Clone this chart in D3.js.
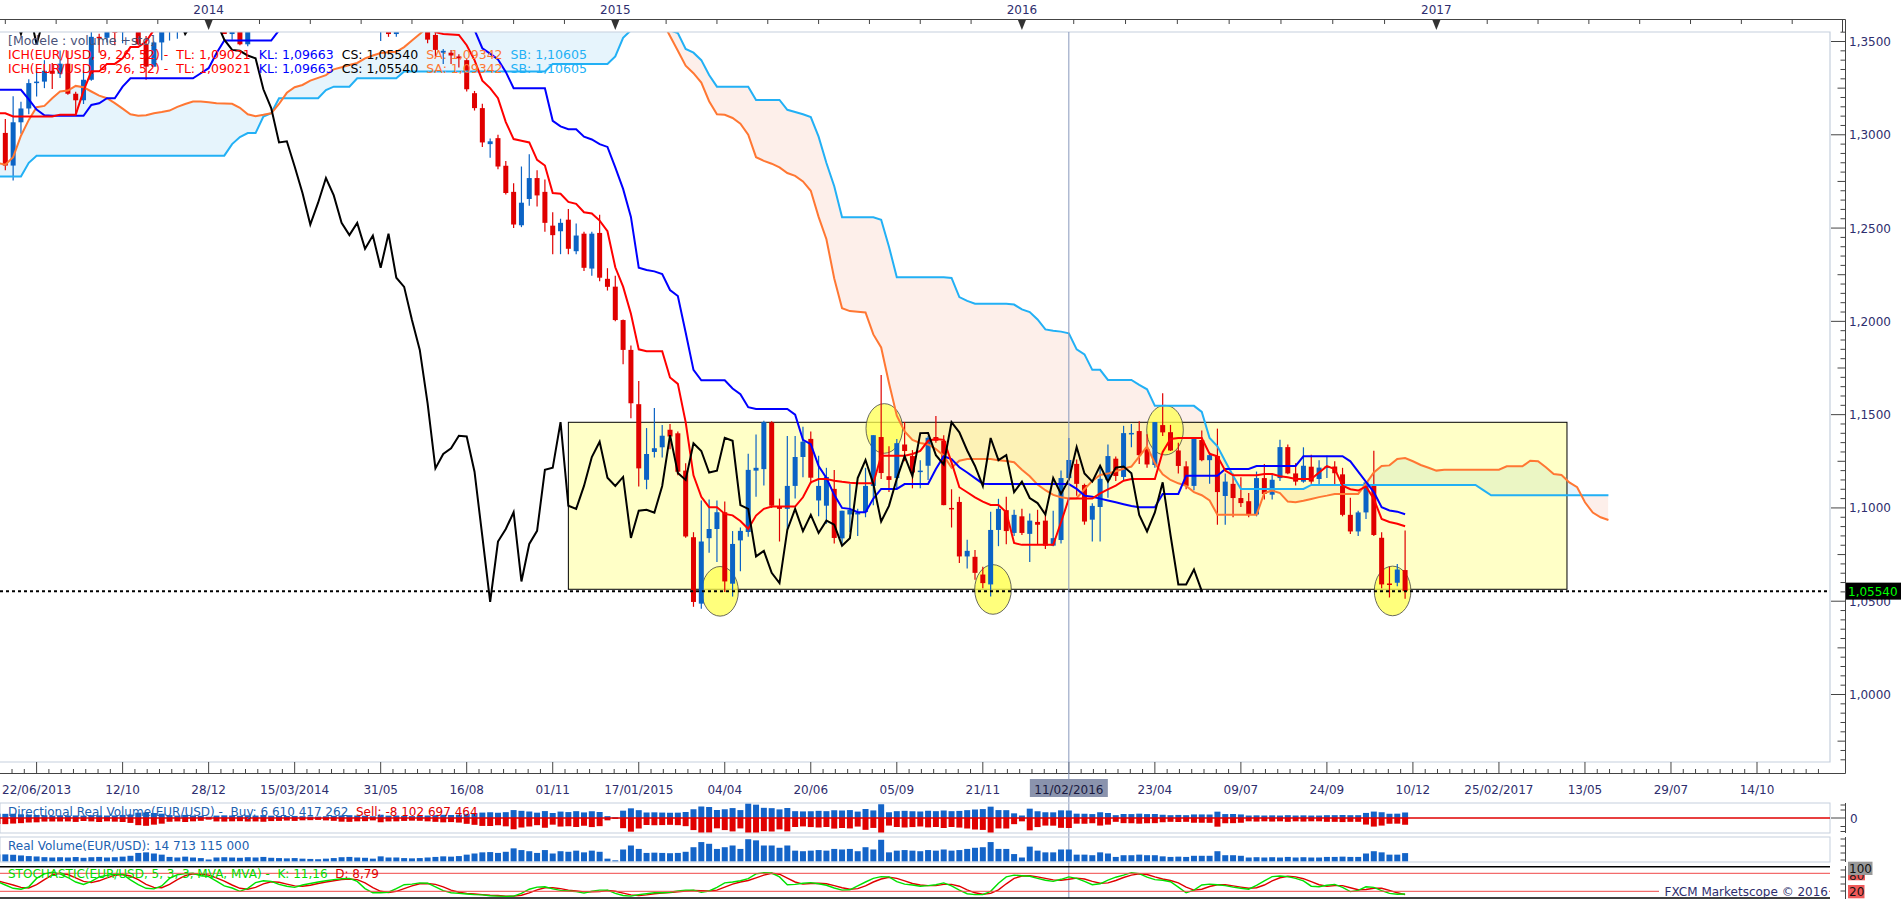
<!DOCTYPE html>
<html>
<head>
<meta charset="utf-8">
<script src="https://d3js.org/d3.v7.min.js"></script>
<style>
body { margin: 0; background: #fff; }
svg { display: block; font-family: "DejaVu Sans", Verdana, sans-serif; }
</style>
</head>
<body>
<div id="chart"></div>
<script>
// weekly EUR/USD candles, week 0 = 22/06/2013, one row per week: open, high, low, close
const ohlc = [
// w0-9
[1.3120,1.3195,1.2980,1.3010],[1.3010,1.3085,1.2810,1.2835],[1.2835,1.3206,1.2755,1.3067],[1.3067,1.3177,1.3005,1.3141],[1.3141,1.3298,1.3110,1.3277],
[1.3277,1.3345,1.3205,1.3285],[1.3285,1.3400,1.3250,1.3343],[1.3343,1.3385,1.3245,1.3327],[1.3327,1.3452,1.3305,1.3381],[1.3381,1.3450,1.3215,1.3220],
// w10-19
[1.3220,1.3230,1.3105,1.3185],[1.3185,1.3345,1.3165,1.3295],[1.3295,1.3569,1.3290,1.3525],[1.3525,1.3542,1.3440,1.3520],[1.3520,1.3646,1.3495,1.3555],
[1.3555,1.3610,1.3480,1.3550],[1.3550,1.3705,1.3490,1.3685],[1.3685,1.3832,1.3675,1.3805],[1.3805,1.3805,1.3480,1.3485],[1.3485,1.3530,1.3295,1.3365],
// w20-29
[1.3365,1.3500,1.3365,1.3495],[1.3495,1.3575,1.3400,1.3555],[1.3555,1.3620,1.3505,1.3590],[1.3590,1.3705,1.3515,1.3705],[1.3705,1.3810,1.3700,1.3740],
[1.3740,1.3810,1.3625,1.3670],[1.3670,1.3895,1.3655,1.3720],[1.3720,1.3820,1.3590,1.3590],[1.3590,1.3690,1.3575,1.3665],[1.3665,1.3700,1.3540,1.3540],
// w30-39
[1.3540,1.3740,1.3510,1.3675],[1.3675,1.3740,1.3480,1.3485],[1.3485,1.3640,1.3475,1.3635],[1.3635,1.3715,1.3580,1.3690],[1.3690,1.3775,1.3640,1.3740],
[1.3740,1.3825,1.3640,1.3800],[1.3800,1.3915,1.3725,1.3875],[1.3875,1.3967,1.3830,1.3910],[1.3910,1.3945,1.3750,1.3795],[1.3795,1.3875,1.3705,1.3750],
// w40-49
[1.3750,1.3810,1.3670,1.3705],[1.3705,1.3905,1.3700,1.3885],[1.3885,1.3905,1.3790,1.3815],[1.3815,1.3875,1.3785,1.3830],[1.3830,1.3905,1.3785,1.3870],
[1.3870,1.3993,1.3760,1.3760],[1.3760,1.3780,1.3650,1.3695],[1.3695,1.3735,1.3615,1.3630],[1.3630,1.3650,1.3585,1.3635],[1.3635,1.3670,1.3503,1.3645],
// w50-59
[1.3645,1.3675,1.3525,1.3540],[1.3540,1.3645,1.3525,1.3605],[1.3605,1.3680,1.3590,1.3645],[1.3645,1.3700,1.3590,1.3595],[1.3595,1.3650,1.3575,1.3605],
[1.3605,1.3645,1.3490,1.3510],[1.3535,1.3545,1.3420,1.3455],[1.3440,1.3460,1.3380,1.3450],[1.3440,1.3455,1.3380,1.3425],[1.3420,1.3432,1.3360,1.3410],
// w60-69
[1.3400,1.3405,1.3232,1.3244],[1.3223,1.3235,1.3130,1.3143],[1.3143,1.3167,1.2934,1.2959],[1.2950,1.2980,1.2877,1.2965],[1.2982,1.3000,1.2815,1.2830],
[1.2834,1.2860,1.2680,1.2688],[1.2694,1.2740,1.2500,1.2519],[1.2515,1.2830,1.2505,1.2636],[1.2656,1.2896,1.2620,1.2768],[1.2768,1.2810,1.2615,1.2675],
// w70-79
[1.2694,1.2760,1.2480,1.2528],[1.2513,1.2585,1.2360,1.2462],[1.2483,1.2550,1.2360,1.2528],[1.2545,1.2602,1.2360,1.2389],[1.2376,1.2525,1.2360,1.2460],
[1.2470,1.2480,1.2270,1.2287],[1.2283,1.2480,1.2245,1.2470],[1.2474,1.2572,1.2215,1.2234],[1.2228,1.2285,1.2165,1.2185],[1.2186,1.2245,1.2000,1.2007],
// w80-89
[1.2007,1.2010,1.1770,1.1847],[1.1847,1.1870,1.1480,1.1561],[1.1556,1.1680,1.1115,1.1212],[1.1151,1.1428,1.1100,1.1289],[1.1300,1.1535,1.1270,1.1320],
[1.1325,1.1445,1.1270,1.1387],[1.1419,1.1450,1.1315,1.1383],[1.1400,1.1410,1.1175,1.1194],[1.1200,1.1240,1.0840,1.0847],[1.0843,1.0870,1.0470,1.0496],
// w90-99
[1.0487,1.1040,1.0460,1.0820],[1.0838,1.1045,1.0760,1.0887],[1.0887,1.1040,1.0710,1.0977],[1.0977,1.1035,1.0550,1.0606],[1.0594,1.0876,1.0525,1.0807],
[1.0826,1.0895,1.0660,1.0877],[1.0871,1.1290,1.0845,1.1204],[1.1200,1.1393,1.1060,1.1215],[1.1208,1.1467,1.1120,1.1460],[1.1458,1.1465,1.1000,1.1012],
// w100-109
[1.1010,1.1050,1.0820,1.0995],[1.0995,1.1385,1.0885,1.1118],[1.1118,1.1385,1.1050,1.1273],[1.1273,1.1435,1.1165,1.1355],[1.1370,1.1410,1.1130,1.1162],
[1.1040,1.1280,1.0955,1.1118],[1.1012,1.1215,1.0915,1.1166],[1.1102,1.1203,1.0810,1.0839],[1.0837,1.0985,1.0810,1.0985],[1.0965,1.1128,1.0869,1.0990],
// w110-119
[1.0965,1.0995,1.0850,1.0975],[1.0978,1.1215,1.0950,1.1118],[1.1118,1.1390,1.1015,1.1390],[1.1380,1.1713,1.1155,1.1187],[1.1170,1.1330,1.1085,1.1150],
[1.1160,1.1370,1.1105,1.1347],[1.1340,1.1460,1.1250,1.1305],[1.1278,1.1310,1.1105,1.1190],[1.1194,1.1255,1.1105,1.1200],[1.1226,1.1385,1.1150,1.1376],
// w120-129
[1.1380,1.1493,1.1350,1.1360],[1.1360,1.1390,1.1015,1.1015],[1.1000,1.1100,1.0895,1.0995],[1.1032,1.1060,1.0705,1.0740],[1.0740,1.0830,1.0675,1.0770],
[1.0738,1.0775,1.0615,1.0652],[1.0643,1.0685,1.0570,1.0597],[1.0590,1.0980,1.0525,1.0882],[1.0882,1.1049,1.0795,1.0995],[1.0988,1.1060,1.0805,1.0876],
// w130-139
[1.0866,1.0990,1.0850,1.0963],[1.0955,1.0995,1.0855,1.0866],[1.0861,1.0970,1.0710,1.0932],[1.0925,1.0990,1.0805,1.0910],[1.0932,1.0990,1.0780,1.0798],
[1.0798,1.0985,1.0795,1.0838],[1.0828,1.1200,1.0810,1.1160],[1.1160,1.1375,1.1155,1.1257],[1.1236,1.1260,1.1065,1.1129],[1.1123,1.1130,1.0910,1.0927],
// w140-149
[1.0937,1.1025,1.0820,1.1011],[1.1005,1.1220,1.0820,1.1156],[1.1150,1.1340,1.1055,1.1278],[1.1264,1.1275,1.1145,1.1171],[1.1166,1.1440,1.1145,1.1401],
[1.1398,1.1450,1.1325,1.1402],[1.1412,1.1465,1.1235,1.1283],[1.1315,1.1395,1.1215,1.1233],[1.1230,1.1460,1.1215,1.1460],[1.1444,1.1614,1.1385,1.1405],
// w150-159
[1.1406,1.1445,1.1305,1.1308],[1.1308,1.1350,1.1185,1.1225],[1.1223,1.1250,1.1100,1.1118],[1.1118,1.1375,1.1095,1.1375],[1.1364,1.1415,1.1250,1.1256],
[1.1256,1.1300,1.1130,1.1283],[1.1278,1.1425,1.0910,1.1085],[1.1064,1.1185,1.0910,1.1141],[1.1129,1.1185,1.0950,1.1053],[1.1053,1.1165,1.1005,1.1026],
// w160-169
[1.1036,1.1080,1.0950,1.0965],[1.0965,1.1195,1.0955,1.1160],[1.1160,1.1235,1.1045,1.1075],[1.1071,1.1185,1.1045,1.1151],[1.1160,1.1365,1.1145,1.1326],
[1.1326,1.1340,1.1180,1.1185],[1.1185,1.1240,1.1120,1.1141],[1.1141,1.1325,1.1135,1.1226],[1.1221,1.1285,1.1130,1.1141],[1.1155,1.1255,1.1120,1.1216],
// w170-179
[1.1218,1.1280,1.1160,1.1222],[1.1222,1.1250,1.1120,1.1186],[1.1180,1.1215,1.0955,1.0963],[1.0963,1.1055,1.0860,1.0874],[1.0874,1.0985,1.0850,1.0976],
[1.0976,1.1145,1.0940,1.1137],[1.1122,1.1306,1.0850,1.0855],[1.0840,1.0870,1.0570,1.0590],[1.0595,1.0685,1.0520,1.0590],[1.0599,1.0700,1.0580,1.0670],
// w180
[1.0667,1.0879,1.0513,1.0554]
];

// Ichimoku lines (same week numbering)
const tenkan = [
1.3115,1.3115,1.3098,1.3098,1.3098,1.3098,1.3098,1.3098,1.3108,1.3108,
1.3108,1.3235,1.3340,1.3340,1.3380,1.3380,1.3410,1.3470,1.3470,1.3500,
1.3562,1.3565,1.3565,1.3563,1.3563,1.3563,1.3595,1.3595,1.3630,1.3648,
1.3685,1.3688,1.3685,1.3685,1.3685,1.3650,1.3695,1.3720,1.3720,1.3720,
1.3720,1.3790,1.3810,1.3818,1.3818,1.3830,1.3808,1.3800,1.3790,1.3748,
1.3748,1.3748,1.3748,1.3748,1.3640,1.3600,1.3550,1.3540,1.3538,1.3535,
1.3480,1.3400,1.3290,1.3250,1.3196,1.3068,1.2977,1.2968,1.2959,1.2866,
1.2835,1.2688,1.2684,1.2640,1.2630,1.2585,1.2578,1.2540,1.2483,1.2290,
1.2186,1.2041,1.1850,1.1840,1.1840,1.1840,1.1699,1.1665,1.1460,1.1175,
1.1060,1.1004,1.1004,1.0968,1.0960,1.0930,1.0888,1.0959,1.0995,1.1007,
1.1007,1.1007,1.1007,1.1057,1.1137,1.1155,1.1155,1.1146,1.1140,1.1135,
1.1132,1.1132,1.1132,1.1280,1.1280,1.1280,1.1280,1.1289,1.1306,1.1360,
1.1369,1.1365,1.1244,1.1111,1.1084,1.1057,1.1034,1.1016,1.1016,1.0977,
1.0812,1.0802,1.0802,1.0802,1.0802,1.0802,1.0923,1.1050,1.1050,1.1050,
1.1050,1.1078,1.1100,1.1120,1.1146,1.1155,1.1155,1.1155,1.1155,1.1300,
1.1370,1.1375,1.1375,1.1375,1.1375,1.1290,1.1277,1.1200,1.1175,1.1175,
1.1175,1.1175,1.1182,1.1182,1.1170,1.1164,1.1155,1.1155,1.1155,1.1190,
1.1224,1.1209,1.1120,1.1100,1.1093,1.1115,1.1048,1.0941,1.0925,1.0915,
1.0902
];
const kijun = [
1.3241,1.3241,1.3241,1.3241,1.3190,1.3135,1.3105,1.3102,1.3102,1.3102,
1.3102,1.3102,1.3160,1.3169,1.3196,1.3196,1.3258,1.3303,1.3303,1.3303,
1.3303,1.3303,1.3303,1.3303,1.3303,1.3303,1.3330,1.3357,1.3437,1.3505,
1.3505,1.3505,1.3505,1.3505,1.3505,1.3505,1.3560,1.3630,1.3630,1.3630,
1.3630,1.3630,1.3630,1.3630,1.3630,1.3680,1.3697,1.3734,1.3734,1.3734,
1.3734,1.3734,1.3734,1.3734,1.3734,1.3734,1.3707,1.3687,1.3687,1.3677,
1.3613,1.3562,1.3464,1.3435,1.3404,1.3337,1.3250,1.3250,1.3250,1.3250,
1.3250,1.3075,1.3045,1.3030,1.3030,1.2990,1.2975,1.2950,1.2935,1.2825,
1.2710,1.2560,1.2288,1.2275,1.2268,1.2253,1.2168,1.2136,1.1940,1.1740,
1.1684,1.1684,1.1684,1.1684,1.1640,1.1610,1.1540,1.1530,1.1530,1.1530,
1.1530,1.1530,1.1500,1.1365,1.1342,1.1225,1.1160,1.1070,1.1000,1.0995,
1.0977,1.0977,1.1050,1.1102,1.1102,1.1102,1.1128,1.1128,1.1128,1.1128,
1.1209,1.1277,1.1262,1.1218,1.1190,1.1160,1.1130,1.1128,1.1128,1.1128,
1.1128,1.1128,1.1128,1.1128,1.1128,1.1128,1.1128,1.1128,1.1102,1.1066,
1.1060,1.1050,1.1040,1.1030,1.1020,1.1010,1.1004,1.1004,1.1004,1.1075,
1.1075,1.1075,1.1173,1.1173,1.1173,1.1173,1.1173,1.1209,1.1209,1.1209,
1.1209,1.1225,1.1225,1.1225,1.1225,1.1225,1.1225,1.1277,1.1277,1.1277,
1.1277,1.1277,1.1277,1.1250,1.1195,1.1140,1.1085,1.1004,1.0986,1.0980,
1.0966
];
// senkou spans, already placed 26 weeks ahead (week 0 .. 206)
const senkouA = [
1.2849,1.2840,1.2880,1.2995,1.3080,1.3148,1.3155,1.3196,1.3232,1.3237,
1.3262,1.3255,1.3232,1.3210,1.3196,1.3170,1.3140,1.3110,1.3102,1.3105,
1.3115,1.3122,1.3130,1.3150,1.3165,1.3178,1.3178,1.3175,1.3169,1.3168,
1.3166,1.3145,1.3110,1.3100,1.3107,1.3115,1.3165,1.3225,1.3255,1.3267,
1.3290,1.3305,1.3320,1.3351,1.3362,1.3374,1.3385,1.3410,1.3425,1.3438,
1.3442,1.3445,1.3470,1.3505,1.3540,1.3577,1.3595,1.3612,1.3630,1.3640,
1.3660,1.3662,1.3660,1.3660,1.3660,1.3660,1.3670,1.3675,1.3675,1.3675,
1.3675,1.3710,1.3720,1.3725,1.3725,1.3755,1.3750,1.3767,1.3762,1.3740,
1.3740,1.3670,1.3640,1.3615,1.3612,1.3606,1.3530,1.3450,1.3370,1.3330,
1.3280,1.3180,1.3110,1.3107,1.3090,1.3060,1.3000,1.2880,1.2860,1.2845,
1.2825,1.2795,1.2780,1.2750,1.2700,1.2560,1.2440,1.2230,1.2070,1.2055,
1.2052,1.2048,1.1930,1.1860,1.1670,1.1494,1.1410,1.1365,1.1348,1.1340,
1.1316,1.1280,1.1215,1.1253,1.1262,1.1262,1.1262,1.1262,1.1256,1.1252,
1.1245,1.1205,1.1170,1.1125,1.1095,1.1070,1.1057,1.1050,1.1052,1.1100,
1.1145,1.1177,1.1184,1.1197,1.1210,1.1222,1.1275,1.1330,1.1240,1.1180,
1.1150,1.1132,1.1118,1.1085,1.1068,1.1040,1.0963,1.0963,1.0963,1.0963,
1.0963,1.0963,1.1080,1.1093,1.1080,1.1034,1.1030,1.1038,1.1048,1.1058,
1.1066,1.1075,1.1075,1.1075,1.1075,1.1130,1.1190,1.1225,1.1228,1.1262,
1.1267,1.1250,1.1230,1.1215,1.1200,1.1205,1.1205,1.1205,1.1205,1.1205,
1.1205,1.1205,1.1205,1.1223,1.1223,1.1223,1.1253,1.1250,1.1218,1.1182,
1.1177,1.1137,1.1111,1.1030,1.0975,1.0950,1.0935
];
const senkouB = [
1.2777,1.2777,1.2777,1.2777,1.2850,1.2888,1.2888,1.2888,1.2888,1.2888,
1.2888,1.2888,1.2888,1.2888,1.2888,1.2888,1.2888,1.2888,1.2888,1.2888,
1.2888,1.2888,1.2888,1.2888,1.2888,1.2888,1.2888,1.2888,1.2888,1.2888,
1.2950,1.2988,1.3009,1.3009,1.3098,1.3116,1.3196,1.3196,1.3196,1.3196,
1.3196,1.3196,1.3240,1.3258,1.3258,1.3258,1.3303,1.3303,1.3303,1.3303,
1.3303,1.3303,1.3339,1.3339,1.3339,1.3339,1.3339,1.3339,1.3339,1.3339,
1.3339,1.3339,1.3339,1.3339,1.3339,1.3339,1.3339,1.3339,1.3339,1.3339,
1.3339,1.3380,1.3380,1.3380,1.3380,1.3380,1.3380,1.3380,1.3380,1.3420,
1.3520,1.3560,1.3560,1.3560,1.3560,1.3560,1.3560,1.3545,1.3460,1.3440,
1.3400,1.3320,1.3258,1.3258,1.3258,1.3258,1.3258,1.3187,1.3187,1.3187,
1.3187,1.3134,1.3122,1.3110,1.3095,1.2990,1.2849,1.2724,1.2558,1.2558,
1.2558,1.2558,1.2558,1.2545,1.2400,1.2237,1.2237,1.2237,1.2237,1.2237,
1.2237,1.2237,1.2233,1.2130,1.2110,1.2095,1.2095,1.2095,1.2095,1.2095,
1.2090,1.2064,1.2050,1.2010,1.1957,1.1950,1.1945,1.1936,1.1850,1.1823,
1.1740,1.1740,1.1686,1.1686,1.1686,1.1686,1.1660,1.1636,1.1547,1.1547,
1.1547,1.1547,1.1547,1.1547,1.1515,1.1375,1.1330,1.1250,1.1172,1.1102,
1.1102,1.1102,1.1102,1.1102,1.1102,1.1102,1.1102,1.1102,1.1123,1.1123,
1.1123,1.1123,1.1123,1.1123,1.1123,1.1123,1.1123,1.1123,1.1123,1.1123,
1.1123,1.1123,1.1123,1.1123,1.1123,1.1123,1.1123,1.1123,1.1123,1.1123,
1.1095,1.1068,1.1068,1.1068,1.1068,1.1068,1.1068,1.1068,1.1068,1.1068,
1.1068,1.1068,1.1068,1.1068,1.1068,1.1068,1.1068
];

// volume panels, billions per week
const buyVolume = [
5.2,5.0,5.1,4.4,4.1,3.6,3.3,2.8,3.3,2.9, 3.1,2.9,3.4,3.2,3.0,3.1,3.7,4.1,6.4,6.6,
6.0,5.2,3.5,2.9,3.7,3.0,2.6,1.5,2.9,3.2, 3.0,2.7,3.3,2.9,3.5,2.8,2.5,2.4,2.5,2.2,
1.9,1.7,2.1,2.6,3.1,3.4,3.0,2.7,2.1,3.9, 2.9,3.0,2.5,2.3,2.6,3.0,3.4,3.8,3.6,4.0,
5.0,5.8,6.5,6.9,6.3,7.0,9.5,8.6,7.8,6.4, 8.3,6.0,7.7,7.1,8.2,6.7,8.1,7.2,2.2,0.9,
8.8,11.6,9.4,6.6,6.8,6.5,6.3,6.4,7.2,10.5, 13.8,13.2,9.6,10.5,11.9,9.5,17.5,16.0,12.2,11.8,
10.3,12.0,8.2,7.9,8.1,8.6,8.2,9.3,9.0,9.5, 7.7,10.8,9.1,16.5,6.9,8.2,8.6,8.1,7.8,8.7,
8.2,9.0,8.2,8.5,9.4,10.2,10.7,13.6,9.5,9.4, 5.6,3.0,11.2,8.1,6.9,6.8,9.2,9.0,5.2,5.1,
4.7,6.9,6.0,3.4,4.8,4.7,5.2,4.7,4.8,3.9, 3.4,3.7,3.4,4.3,4.3,4.2,7.6,4.7,4.8,4.3,
3.0,3.2,3.0,3.2,3.0,3.4,3.0,3.2,3.0,3.0, 3.4,3.4,3.6,3.4,3.4,6.1,7.7,6.9,5.1,5.2,
6.61
];
const sellVolume = [
-7.2,-7.4,-6.7,-6.2,-5.4,-5.2,-4.3,-4.2,-4.2,-4.1, -4.7,-3.6,-4.1,-4.8,-4.0,-4.4,-4.8,-5.9,-8.6,-9.4,
-8.0,-6.8,-4.5,-4.1,-4.8,-4.0,-3.4,-2.0,-4.1,-4.3, -4.0,-3.8,-4.2,-4.1,-4.5,-3.7,-3.5,-3.1,-3.5,-2.8,
-2.6,-2.3,-2.9,-3.4,-4.4,-4.6,-4.0,-3.8,-2.9,-5.1, -4.1,-4.0,-3.5,-3.2,-3.4,-4.0,-4.6,-5.2,-4.9,-5.5,
-7.0,-8.2,-9.5,-9.6,-8.7,-10.0,-13.5,-11.4,-10.2,-8.6, -11.7,-8.0,-10.3,-9.9,-10.8,-9.3,-10.9,-9.8,-2.8,-1.1,
-12.2,-16.4,-12.6,-8.4,-8.7,-8.5,-8.2,-8.6,-9.8,-14.5, -20.2,-17.8,-12.4,-14.5,-16.1,-12.5,-21.5,-21.0,-15.8,-16.2,
-13.7,-16.0,-10.8,-10.1,-10.9,-11.4,-10.8,-12.7,-12.0,-12.5, -10.3,-14.2,-11.9,-21.5,-9.1,-10.8,-11.4,-10.9,-10.2,-11.3,
-10.8,-12.0,-10.8,-11.5,-12.6,-13.8,-14.3,-20.4,-12.5,-12.6, -7.4,-4.0,-14.8,-10.9,-9.1,-9.2,-11.8,-12.0,-6.8,-6.9,
-6.3,-9.1,-8.0,-4.6,-6.2,-6.3,-6.8,-6.3,-6.2,-5.1, -4.6,-4.8,-4.6,-5.7,-5.7,-5.8,-10.4,-6.3,-6.2,-5.7,
-4.0,-4.3,-4.0,-4.3,-4.0,-4.6,-4.0,-4.3,-4.0,-4.0, -4.6,-4.6,-4.9,-4.6,-4.6,-7.9,-10.3,-9.1,-6.9,-6.8,
-8.10
];
const realVolume = [
12.4,12.4,11.8,10.6,9.5,8.8,7.6,7.0,7.5,7.0, 7.8,6.5,7.5,8.0,7.0,7.5,8.5,10.0,15.0,16.0,
14.0,12.0,8.0,7.0,8.5,7.0,6.0,3.5,7.0,7.5, 7.0,6.5,7.5,7.0,8.0,6.5,6.0,5.5,6.0,5.0,
4.5,4.0,5.0,6.0,7.5,8.0,7.0,6.5,5.0,9.0, 7.0,7.0,6.0,5.5,6.0,7.0,8.0,9.0,8.5,9.5,
12.0,14.0,16.0,16.5,15.0,17.0,23.0,20.0,18.0,15.0, 20.0,14.0,18.0,17.0,19.0,16.0,19.0,17.0,5.0,2.0,
21.0,28.0,22.0,15.0,15.5,15.0,14.5,15.0,17.0,25.0, 34.0,31.0,22.0,25.0,28.0,22.0,39.0,37.0,28.0,28.0,
24.0,28.0,19.0,18.0,19.0,20.0,19.0,22.0,21.0,22.0, 18.0,25.0,21.0,38.0,16.0,19.0,20.0,19.0,18.0,20.0,
19.0,21.0,19.0,20.0,22.0,24.0,25.0,34.0,22.0,22.0, 13.0,7.0,26.0,19.0,16.0,16.0,21.0,21.0,12.0,12.0,
11.0,16.0,14.0,8.0,11.0,11.0,12.0,11.0,11.0,9.0, 8.0,8.5,8.0,10.0,10.0,10.0,18.0,11.0,11.0,10.0,
7.0,7.5,7.0,7.5,7.0,8.0,7.0,7.5,7.0,7.0, 8.0,8.0,8.5,8.0,8.0,14.0,18.0,16.0,12.0,12.0,
14.7
];

// stochastic 5,3,3
const stochK = [
52,41,30,27,35,63,78,84,78,66, 51,43,53,68,73,77,77,58,42,30,
28,38,63,75,79,80,72,69,54,38, 31,20,30,49,55,53,43,37,33,41,
46,51,55,59,62,63,53,29,15,15, 17,29,42,44,48,47,35,22,15,13,
11,9,8,5,4,3,4,13,27,34, 35,28,23,21,19,14,20,24,24,13,
6,4,9,12,15,15,17,21,24,24, 17,21,33,48,51,55,62,78,82,81,
68,42,43,47,49,45,40,31,24,25, 38,51,63,69,68,52,44,41,37,39,
42,48,38,24,12,9,9,20,47,68, 74,72,70,63,57,53,60,68,63,53,
42,45,57,67,74,82,79,67,59,57, 52,34,15,24,41,44,42,39,34,30,
27,40,55,69,71,69,63,55,37,35, 40,43,33,19,23,35,33,22,13,10,
11.16
];
const stochD = [
55,48,41,33,31,42,59,75,80,76, 65,53,49,55,65,73,76,71,59,43,
33,32,43,59,72,78,77,74,65,54, 41,30,27,33,45,52,50,44,38,37,
40,46,51,55,59,61,59,48,32,20, 16,20,29,38,45,46,43,35,24,17,
13,11,9,7,6,4,4,7,15,25, 32,32,29,24,21,18,18,19,23,20,
14,8,6,8,12,14,16,18,21,23, 22,21,24,34,44,51,56,65,74,80,
77,64,51,44,46,47,45,39,32,27, 29,38,51,61,67,63,55,46,41,39,
39,43,43,37,25,15,10,13,25,45, 63,71,72,68,63,58,57,60,64,61,
53,47,48,56,66,74,78,76,68,61, 56,48,34,24,27,36,42,42,38,34,
30,32,41,55,65,70,68,62,52,42, 37,39,39,32,25,26,30,30,23,15,
8.79
];

// annotations drawn on the chart
const zoneWeeks = [73, 200.7];
const zonePrices = [1.0564, 1.1459];
const circleWeeks = [92.4, 113.4, 127.3, 149.3, 178.4];
const circlePrices = [1.0553, 1.1426, 1.0563, 1.1417, 1.0555];
const lastClose = 1.0554;
const crosshairWeek = 137;
const crosshairLabel = "11/02/2016";

// axes
const priceLabels = [1.00, 1.05, 1.10, 1.15, 1.20, 1.25, 1.30, 1.35];
const yearLabels = ["2014", "2015", "2016", "2017"];
const yearWeeks = [27, 79, 131, 184];
const dateLabels = ["12/10","28/12","15/03/2014","31/05","16/08","01/11","17/01/2015","04/04","20/06","05/09",
  "21/11","06/02/2016","23/04","09/07","24/09","10/12","25/02/2017","13/05","29/07","14/10"];
const firstDateLabel = "22/06/2013";

const W = 1903, H = 900;
const plotTop = 32, plotBottom = 762, plotRight = 1830, axisX = 1845.5;
const textColor = "#2e2e6e";

const start = new Date(Date.UTC(2013, 5, 22));
const weekDate = w => new Date(start.getTime() + w * 7 * 864e5);
const x = d3.scaleUtc().domain([weekDate(0), weekDate(180)]).range([-2.5, 1405.1]);
const xw = w => x(weekDate(w));
const y = d3.scaleLinear().domain([1.0, 1.35]).range([694.5, 41.5]);

const svg = d3.select("#chart").append("svg").attr("width", W).attr("height", H);
svg.append("rect").attr("width", W).attr("height", H).attr("fill", "#fff");
const defs = svg.append("defs");
defs.append("clipPath").attr("id", "clipMain").append("rect")
  .attr("x", 0).attr("y", plotTop).attr("width", plotRight).attr("height", plotBottom - plotTop);
defs.append("clipPath").attr("id", "clipLow").append("rect")
  .attr("x", 0).attr("y", 800).attr("width", plotRight).attr("height", 100);

const main = svg.append("g").attr("clip-path", "url(#clipMain)");

// kumo
const cloud = senkouA.map((a, i) => ({ w: i, a: a, b: senkouB[i] }));
const aboveB = d3.area().x(d => xw(d.w)).y0(plotTop - 60).y1(d => y(d.b));
const belowB = d3.area().x(d => xw(d.w)).y0(d => y(d.b)).y1(plotBottom + 60);
defs.append("clipPath").attr("id", "clipAbove").append("path").attr("d", aboveB(cloud));
defs.append("clipPath").attr("id", "clipBelow").append("path").attr("d", belowB(cloud));
const band = d3.area().x(d => xw(d.w)).y0(d => y(d.a)).y1(d => y(d.b));
main.append("path").attr("d", band(cloud)).attr("fill", "#e6f4fc").attr("clip-path", "url(#clipAbove)");
main.append("path").attr("d", band(cloud)).attr("fill", "#fdefea").attr("clip-path", "url(#clipBelow)");

// range box
main.append("rect")
  .attr("x", xw(zoneWeeks[0])).attr("width", xw(zoneWeeks[1]) - xw(zoneWeeks[0]))
  .attr("y", y(zonePrices[1])).attr("height", y(zonePrices[0]) - y(zonePrices[1]))
  .attr("fill", "#ffff00").attr("fill-opacity", 0.22)
  .attr("stroke", "#000").attr("stroke-width", 1);

// circles
main.selectAll(".mark").data(circleWeeks).join("ellipse")
  .attr("class", "mark")
  .attr("cx", d => xw(d)).attr("cy", (d, i) => y(circlePrices[i]))
  .attr("rx", 18.3).attr("ry", 24.8)
  .attr("fill", "#ffff50").attr("fill-opacity", 0.75)
  .attr("stroke", "#444").attr("stroke-width", 0.8);

// candles
const up = "#0b63c5", down = "#e00000";
const candles = main.append("g");
candles.selectAll("line").data(ohlc).join("line")
  .attr("x1", (d, i) => xw(i)).attr("x2", (d, i) => xw(i))
  .attr("y1", d => y(d[1])).attr("y2", d => y(d[2]))
  .attr("stroke", d => d[3] >= d[0] ? up : down).attr("stroke-width", 1.2);
candles.selectAll("rect").data(ohlc).join("rect")
  .attr("x", (d, i) => xw(i) - 2.5).attr("width", 5)
  .attr("y", d => y(Math.max(d[0], d[3])))
  .attr("height", d => Math.max(1.5, Math.abs(y(d[0]) - y(d[3]))))
  .attr("fill", d => d[3] >= d[0] ? up : down);

// ichimoku lines
const line = d3.line().x(d => xw(d[0])).y(d => y(d[1]));
function drawLine(values, shift, color) {
  main.append("path")
    .attr("d", line(values.map((v, i) => [i + shift, v])))
    .attr("fill", "none").attr("stroke", color).attr("stroke-width", 2);
}
drawLine(senkouB, 0, "#22b0f5");
drawLine(senkouA, 0, "#ff7733");
drawLine(kijun, 0, "#0000ff");
drawLine(tenkan, 0, "#ff0000");
drawLine(ohlc.map(d => d[3]), -26, "#000000");

// last close dotted line
svg.append("line").attr("x1", 0).attr("x2", plotRight - 2)
  .attr("y1", y(lastClose)).attr("y2", y(lastClose))
  .attr("stroke", "#000").attr("stroke-width", 2).attr("stroke-dasharray", "3,3");

// plot border
svg.append("path")
  .attr("d", `M0,${plotTop}H${plotRight}V${plotBottom}H0`)
  .attr("fill", "none").attr("stroke", "#c5cfdd").attr("stroke-width", 1.2);

// legend
svg.append("text").attr("x", 8).attr("y", 45).attr("font-size", 12.5).attr("fill", "#4a5278")
  .text("[Modele : volume +sto]");
const ichParts = [
  ["ICH(EUR/USD, 9, 26, 52) -  TL: 1,09021  ", "#ff0000"],
  ["KL: 1,09663  ", "#0000ff"],
  ["CS: 1,05540  ", "#000000"],
  ["SA: 1,09342  ", "#ff7733"],
  ["SB: 1,10605", "#22b0f5"]
];
[59, 72.5].forEach(ty => {
  const t = svg.append("text").attr("x", 8).attr("y", ty).attr("font-size", 12.5)
    .attr("xml:space", "preserve").style("white-space", "pre");
  ichParts.forEach(p => t.append("tspan").attr("fill", p[1]).text(p[0]));
});

// top axis with year markers
svg.append("line").attr("x1", 0).attr("x2", axisX).attr("y1", 19.5).attr("y2", 19.5).attr("stroke", "#444");
let topTicks = [];
for (let w = yearWeeks[0]; w >= 0; w -= 6.5) topTicks.push(w);
yearWeeks.forEach((w, i) => {
  const next = i < yearWeeks.length - 1 ? yearWeeks[i + 1] : w + 52;
  for (let j = 1; j < 8; j++) topTicks.push(w + j * (next - w) / 8);
  topTicks.push(next);
});
svg.selectAll(".ttick").data(topTicks.filter(w => xw(w) < plotRight)).join("line")
  .attr("class", "ttick")
  .attr("x1", d => xw(d)).attr("x2", d => xw(d)).attr("y1", 19.5).attr("y2", 24)
  .attr("stroke", "#444");
svg.selectAll(".ytri").data(yearWeeks).join("path")
  .attr("class", "ytri")
  .attr("d", d => `M${xw(d) - 4},20L${xw(d) + 4},20L${xw(d)},30Z`)
  .attr("fill", "#333");
svg.selectAll(".ylab").data(yearWeeks).join("text")
  .attr("class", "ylab")
  .attr("x", d => xw(d)).attr("y", 14).attr("text-anchor", "middle")
  .attr("font-size", 12).attr("fill", textColor)
  .text((d, i) => yearLabels[i]);

// right price axis
svg.append("line").attr("x1", axisX).attr("x2", axisX).attr("y1", 19.5).attr("y2", 773.5).attr("stroke", "#444");
svg.append("line").attr("x1", axisX - 3).attr("x2", axisX - 3).attr("y1", 19.5).attr("y2", plotTop).attr("stroke", "#444");
const priceSteps = d3.range(193, 272);
svg.selectAll(".ptick").data(priceSteps).join("line")
  .attr("class", "ptick")
  .attr("x1", d => d % 10 === 0 ? plotRight + 1 : (d % 5 === 0 ? axisX - 8 : axisX - 5))
  .attr("x2", axisX)
  .attr("y1", d => y(d * 0.005)).attr("y2", d => y(d * 0.005))
  .attr("stroke", "#444");
svg.selectAll(".plab").data(priceLabels).join("text")
  .attr("class", "plab")
  .attr("x", 1849).attr("y", d => y(d) + 4.5)
  .attr("font-size", 12).attr("fill", textColor)
  .text(d => d3.format(".4f")(d).replace(".", ","));

// last price box
svg.append("rect").attr("x", 1846).attr("y", y(lastClose) - 8.5).attr("width", 55).attr("height", 17).attr("fill", "#000");
svg.append("text").attr("x", 1848).attr("y", y(lastClose) + 4.5).attr("font-size", 12).attr("fill", "#00ff00")
  .text(d3.format(".5f")(lastClose).replace(".", ","));

// bottom date axis
svg.append("line").attr("x1", 0).attr("x2", axisX).attr("y1", 773.5).attr("y2", 773.5).attr("stroke", "#444");
const majorWeeks = d3.range(5, 240, 11).filter(w => xw(w) < plotRight);
const minorWeeks = [];
majorWeeks.forEach(w => { for (let j = 1; j < 7; j++) minorWeeks.push(w + j * 11 / 7); });
minorWeeks.push(...[1, 2, 3, 4, 5, 6].map(j => 5 - j * 11 / 7).filter(w => xw(w) > 0));
svg.selectAll(".btick").data(majorWeeks).join("line")
  .attr("class", "btick")
  .attr("x1", d => xw(d)).attr("x2", d => xw(d)).attr("y1", plotBottom).attr("y2", 773.5)
  .attr("stroke", "#444");
svg.selectAll(".bmin").data(minorWeeks.filter(w => xw(w) < plotRight)).join("line")
  .attr("class", "bmin")
  .attr("x1", d => xw(d)).attr("x2", d => xw(d)).attr("y1", 769).attr("y2", 773.5)
  .attr("stroke", "#444");
svg.append("text").attr("x", 2).attr("y", 793.5).attr("font-size", 12).attr("fill", textColor).text(firstDateLabel);
svg.selectAll(".blab").data(dateLabels).join("text")
  .attr("class", "blab")
  .attr("x", (d, i) => xw(16 + 11 * i)).attr("y", 793.5).attr("text-anchor", "middle")
  .attr("font-size", 12).attr("fill", textColor)
  .text(d => d);

// crosshair
svg.append("line").attr("x1", xw(crosshairWeek)).attr("x2", xw(crosshairWeek))
  .attr("y1", plotTop).attr("y2", 898).attr("stroke", "#8898bd").attr("stroke-width", 1);
svg.append("rect").attr("x", xw(crosshairWeek) - 39).attr("y", 779).attr("width", 78).attr("height", 18).attr("fill", "#8a93ad");
svg.append("text").attr("x", xw(crosshairWeek)).attr("y", 793.5).attr("text-anchor", "middle")
  .attr("font-size", 12).attr("fill", "#1a1a40").text(crosshairLabel);

// lower panels
const low = svg.append("g").attr("clip-path", "url(#clipLow)");
const yDir = d3.scaleLinear().domain([-18, 18]).range([833, 803]);
const yVol = d3.scaleLinear().domain([0, 42]).range([861.5, 837.5]);
const yStoch = d3.scaleLinear().domain([0, 100]).range([897.3, 867.3]);

svg.append("rect").attr("x", 0).attr("y", 803).attr("width", plotRight).attr("height", 30)
  .attr("fill", "none").attr("stroke", "#c5cfdd");
svg.append("rect").attr("x", 0).attr("y", 837).attr("width", plotRight).attr("height", 25)
  .attr("fill", "none").attr("stroke", "#c5cfdd");

const dirClip = defs.append("clipPath").attr("id", "clipDir").append("rect")
  .attr("x", 0).attr("y", 803.5).attr("width", plotRight).attr("height", 29);
const dir = svg.append("g").attr("clip-path", "url(#clipDir)");
dir.selectAll(".buy").data(buyVolume).join("rect")
  .attr("class", "buy")
  .attr("x", (d, i) => xw(i) - 3).attr("width", 6)
  .attr("y", d => yDir(d)).attr("height", d => yDir(0) - yDir(d))
  .attr("fill", "#1464c8");
dir.selectAll(".sell").data(sellVolume).join("rect")
  .attr("class", "sell")
  .attr("x", (d, i) => xw(i) - 3).attr("width", 6)
  .attr("y", yDir(0)).attr("height", d => yDir(d) - yDir(0))
  .attr("fill", "#e00000");
svg.append("line").attr("x1", 0).attr("x2", plotRight).attr("y1", yDir(0)).attr("y2", yDir(0))
  .attr("stroke", "#e00000").attr("stroke-width", 1.3);

low.selectAll(".vol").data(realVolume).join("rect")
  .attr("class", "vol")
  .attr("x", (d, i) => xw(i) - 3).attr("width", 6)
  .attr("y", d => yVol(d)).attr("height", d => yVol(0) - yVol(d))
  .attr("fill", "#1464c8");

// stochastic
[80, 20].forEach(v => {
  svg.append("line").attr("x1", 0).attr("x2", plotRight).attr("y1", yStoch(v)).attr("y2", yStoch(v))
    .attr("stroke", "#f04848").attr("stroke-width", 1);
});
[866.7, 898].forEach(v => {
  svg.append("line").attr("x1", 0).attr("x2", plotRight).attr("y1", v).attr("y2", v)
    .attr("stroke", "#000").attr("stroke-width", 1.5);
});
const sline = d3.line().x((d, i) => xw(i)).y(d => yStoch(d));
low.append("path").attr("d", sline(stochD)).attr("fill", "none").attr("stroke", "#e00000").attr("stroke-width", 1.4);
low.append("path").attr("d", sline(stochK)).attr("fill", "none").attr("stroke", "#00e000").attr("stroke-width", 1.4);

// lower panel titles
const dirTitle = svg.append("text").attr("x", 8).attr("y", 815.5).attr("font-size", 12)
  .attr("xml:space", "preserve").style("white-space", "pre");
dirTitle.append("tspan").attr("fill", "#2060b0").text("Directional Real Volume(EUR/USD) -  Buy: 6 610 417 262  ");
dirTitle.append("tspan").attr("fill", "#e00000").text("Sell: -8 102 697 464");
svg.append("text").attr("x", 8).attr("y", 850).attr("font-size", 12).attr("fill", "#2060b0")
  .text("Real Volume(EUR/USD): 14 713 115 000");
const stTitle = svg.append("text").attr("x", 8).attr("y", 877.5).attr("font-size", 12)
  .attr("xml:space", "preserve").style("white-space", "pre");
stTitle.append("tspan").attr("fill", "#00dd00").text("STOCHASTIC(EUR/USD, 5, 3, 3, MVA, MVA) -  K: 11,16  ");
stTitle.append("tspan").attr("fill", "#e00000").text("D: 8,79");

// lower panel right scales
[805, 810, 826.5, 831.5, 839, 846, 853, 860, 870, 877, 884, 891].forEach(v => {
  svg.append("line").attr("x1", axisX - 5).attr("x2", axisX).attr("y1", v).attr("y2", v).attr("stroke", "#444");
});
[[803, 833], [837, 862], [866, 899]].forEach(r => {
  svg.append("line").attr("x1", axisX).attr("x2", axisX).attr("y1", r[0]).attr("y2", r[1]).attr("stroke", "#444");
});
svg.append("line").attr("x1", plotRight + 1).attr("x2", axisX).attr("y1", yDir(0)).attr("y2", yDir(0)).attr("stroke", "#444");
svg.append("text").attr("x", 1850).attr("y", yDir(0) + 4.5).attr("font-size", 12).attr("fill", textColor).text("0");

svg.append("rect").attr("x", 1848).attr("y", yStoch(80) - 1).attr("width", 17).attr("height", 8).attr("fill", "#f05a5a");
svg.append("text").attr("x", 1849).attr("y", yStoch(80) + 7).attr("font-size", 12).attr("fill", "#222").text("80");
svg.append("rect").attr("x", 1848).attr("y", 861.7).attr("width", 24.5).attr("height", 13.3).attr("fill", "#999");
svg.append("text").attr("x", 1849).attr("y", 872.5).attr("font-size", 12).attr("fill", "#111").text("100");
svg.append("rect").attr("x", 1848).attr("y", 885).attr("width", 16.5).attr("height", 13.3).attr("fill", "#f05a5a");
svg.append("text").attr("x", 1849).attr("y", 896).attr("font-size", 12).attr("fill", "#111").text("20");

// footer
svg.append("rect").attr("x", 1659).attr("y", 882).attr("width", 170).attr("height", 15).attr("fill", "#fff");
svg.append("text").attr("x", 1828).attr("y", 895.5).attr("text-anchor", "end")
  .attr("font-size", 12).attr("fill", textColor).text("FXCM Marketscope \u00a9 2016");
</script>
</body>
</html>
